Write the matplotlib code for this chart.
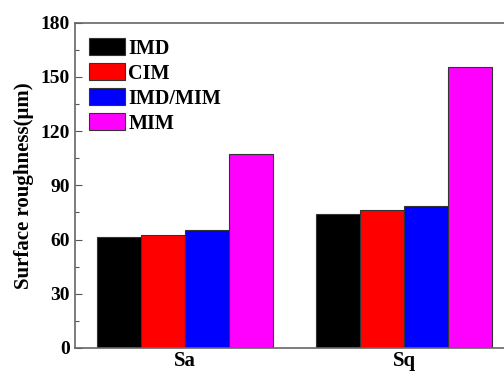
import matplotlib
matplotlib.use("Agg")
import matplotlib.pyplot as plt
import numpy as np
from matplotlib.ticker import MultipleLocator

categories = ["Sa", "Sq"]
series_names = ["IMD", "CIM", "IMD/MIM", "MIM"]
imd = [61.3, 74.0]
cim = [62.7, 76.4]
imd_mim = [65.3, 78.8]
mim = [107.4, 155.7]
colors = ["#000000", "#ff0000", "#0000ff", "#ff00ff"]

plt.rcParams["font.family"] = ["Liberation Serif", "DejaVu Serif"]
plt.rcParams["font.weight"] = "bold"

W, H = 504, 374
fig = plt.figure(figsize=(W / 100, H / 100), dpi=100)
left, right, top, bottom = 75, 514, 22.7, 348
ax = fig.add_axes([left / W, 1 - bottom / H, (right - left) / W, (bottom - top) / H])

x = np.arange(len(categories))
width = 0.2
for i, (vals, name) in enumerate(zip([imd, cim, imd_mim, mim], series_names)):
    ax.bar(x + (i - 1.5) * width, vals, width, color=colors[i], edgecolor="#333333",
           linewidth=0.8, label=name)

ax.set_xlim(-0.5, 1.5)
ax.set_ylim(0, 180)
ax.set_xticks(x)
ax.set_xticklabels(categories, fontsize=15, fontweight="bold")
ax.yaxis.set_major_locator(MultipleLocator(30))
ax.yaxis.set_minor_locator(MultipleLocator(15))
ax.tick_params(axis="y", which="major", direction="in", length=5, width=0.8,
               labelsize=14, color="#555555")
ax.tick_params(axis="y", which="minor", direction="in", length=3, width=0.8, color="#555555")
ax.tick_params(axis="x", length=0, pad=2)
for lab in ax.get_yticklabels():
    lab.set_fontweight("bold")
for s in ax.spines.values():
    s.set_color("#666666")
    s.set_linewidth(1.2)

ax.set_ylabel("Surface roughness(μm)", fontsize=15, fontweight="bold", labelpad=5)

leg = ax.legend(loc="upper left", bbox_to_anchor=(0.014, 0.978), frameon=False,
                prop={"size": 14.5, "weight": "bold"}, handlelength=1.8, handleheight=0.95,
                handletextpad=0.15, labelspacing=0.22, borderaxespad=0.0)

fig.savefig("out.png", dpi=100)
